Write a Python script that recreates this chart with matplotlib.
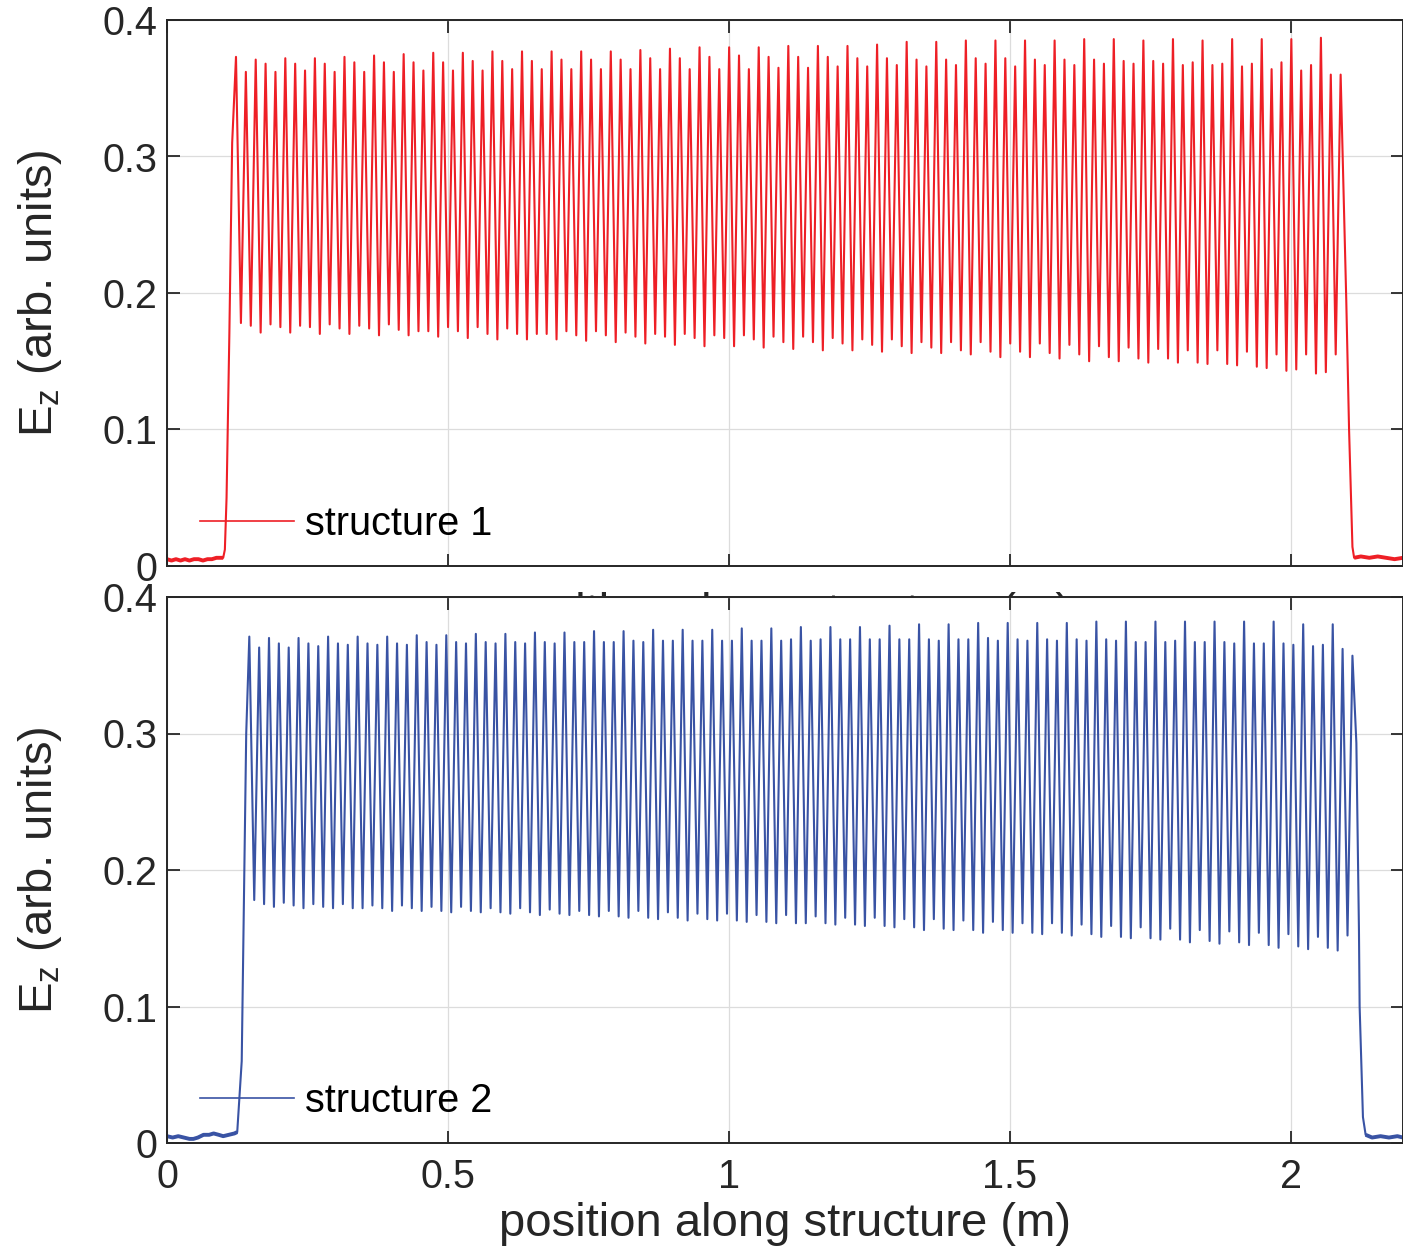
import numpy as np
import matplotlib
matplotlib.use('Agg')
import matplotlib.pyplot as plt
from matplotlib.ticker import FuncFormatter

plt.rcParams['font.family'] = ['Liberation Sans', 'DejaVu Sans']
plt.rcParams['mathtext.default'] = 'regular'

# ---- structure 1 (red): peak / trough heights read cell by cell ----
peaks1 = [0.373, 0.362, 0.371, 0.368, 0.362, 0.372, 0.368, 0.363, 0.372, 0.368,
          0.362, 0.373, 0.369, 0.362, 0.374, 0.369, 0.362, 0.375, 0.369, 0.363,
          0.376, 0.369, 0.363, 0.376, 0.370, 0.363, 0.377, 0.370, 0.364, 0.377,
          0.370, 0.364, 0.377, 0.371, 0.364,
          0.377, 0.371, 0.364, 0.377, 0.371, 0.364, 0.378, 0.372, 0.364, 0.379,
          0.372, 0.364, 0.380, 0.373, 0.364, 0.380, 0.374, 0.364, 0.380, 0.373,
          0.365, 0.381, 0.373, 0.365, 0.381, 0.373, 0.366, 0.381, 0.372, 0.366,
          0.382, 0.372, 0.367, 0.384, 0.371, 0.366, 0.384, 0.371, 0.367, 0.385,
          0.372, 0.368,
          0.385, 0.372, 0.366, 0.385, 0.371, 0.367, 0.385, 0.371, 0.367, 0.386,
          0.371, 0.368, 0.386, 0.370, 0.368, 0.385, 0.370, 0.368, 0.386, 0.367,
          0.369, 0.385, 0.367, 0.368, 0.386, 0.366, 0.368, 0.386, 0.364, 0.369,
          0.386, 0.363, 0.367, 0.387, 0.360, 0.360]
troughs1 = [0.178, 0.176, 0.171, 0.177, 0.175, 0.171, 0.176, 0.175, 0.170, 0.177,
            0.174, 0.170, 0.176, 0.174, 0.169, 0.177, 0.173, 0.169, 0.172, 0.172,
            0.168, 0.175, 0.172, 0.167, 0.175, 0.170, 0.166, 0.174, 0.170, 0.166,
            0.170, 0.170, 0.166, 0.172,
            0.169, 0.165, 0.172, 0.169, 0.164, 0.171, 0.168, 0.163, 0.170, 0.168,
            0.162, 0.170, 0.167, 0.161, 0.169, 0.167, 0.161, 0.169, 0.166, 0.160,
            0.168, 0.164, 0.159, 0.168, 0.164, 0.158, 0.167, 0.163, 0.158, 0.166,
            0.162, 0.157, 0.166, 0.161, 0.156, 0.164, 0.160, 0.156, 0.164, 0.158,
            0.155, 0.164,
            0.157, 0.153, 0.163, 0.157, 0.153, 0.163, 0.156, 0.152, 0.162, 0.155,
            0.150, 0.161, 0.153, 0.150, 0.160, 0.152, 0.149, 0.159, 0.152, 0.149,
            0.158, 0.149, 0.148, 0.158, 0.148, 0.147, 0.157, 0.146, 0.145, 0.155,
            0.143, 0.144, 0.155, 0.141, 0.142, 0.155]
first_peak1, last_peak1 = 0.1228, 2.089
# flat noisy floor before the structure, then the rising edge
floor1_x = [0.0, 0.008, 0.016, 0.024, 0.032, 0.040, 0.048, 0.056, 0.064, 0.072,
            0.080, 0.088, 0.096, 0.100]
floor1_y = [0.005, 0.004, 0.005, 0.004, 0.005, 0.004, 0.005, 0.005, 0.004, 0.005,
            0.005, 0.006, 0.006, 0.006]
rise1_x = [0.103, 0.106, 0.111, 0.116]
rise1_y = [0.012, 0.050, 0.170, 0.310]
fall1_x = [2.099, 2.104, 2.110]
fall1_y = [0.195, 0.100, 0.014]
end1_x = [2.113, 2.125, 2.140, 2.155, 2.170, 2.185, 2.200]
end1_y = [0.006, 0.007, 0.006, 0.007, 0.006, 0.005, 0.006]

# ---- structure 2 (blue) ----
peaks2 = [0.371, 0.363, 0.370, 0.366, 0.363, 0.370, 0.366, 0.364, 0.371, 0.366,
          0.365, 0.371, 0.366, 0.365, 0.371, 0.366, 0.365, 0.372, 0.367, 0.365,
          0.372, 0.367, 0.366, 0.373, 0.367, 0.366, 0.373, 0.367, 0.366, 0.374,
          0.367, 0.366, 0.374, 0.367,
          0.367, 0.375, 0.367, 0.367, 0.375, 0.368, 0.367, 0.376, 0.368, 0.368,
          0.376, 0.368, 0.368, 0.376, 0.368, 0.368, 0.377, 0.368, 0.368, 0.377,
          0.368, 0.369, 0.378, 0.368, 0.369, 0.378, 0.369, 0.369, 0.378, 0.369,
          0.369, 0.379, 0.369, 0.369, 0.380, 0.369, 0.368, 0.380, 0.369, 0.369,
          0.381, 0.370,
          0.368, 0.381, 0.369, 0.368, 0.381, 0.369, 0.368, 0.381, 0.369, 0.368,
          0.382, 0.369, 0.368, 0.382, 0.367, 0.367, 0.382, 0.367, 0.368, 0.382,
          0.367, 0.367, 0.382, 0.367, 0.366, 0.382, 0.366, 0.366, 0.382, 0.366,
          0.365, 0.380, 0.364, 0.365, 0.380, 0.362, 0.357]
troughs2 = [0.178, 0.175, 0.173, 0.176, 0.174, 0.172, 0.175, 0.173, 0.172, 0.175,
            0.172, 0.172, 0.174, 0.172, 0.170, 0.174, 0.172, 0.170, 0.173, 0.170,
            0.169, 0.173, 0.170, 0.169, 0.172, 0.169, 0.168, 0.172, 0.169, 0.167,
            0.171, 0.168, 0.167,
            0.170, 0.167, 0.166, 0.170, 0.166, 0.165, 0.170, 0.165, 0.164, 0.169,
            0.165, 0.163, 0.168, 0.164, 0.163, 0.168, 0.163, 0.162, 0.167, 0.162,
            0.161, 0.167, 0.161, 0.161, 0.166, 0.161, 0.160, 0.165, 0.160, 0.159,
            0.165, 0.159, 0.158, 0.164, 0.158, 0.156, 0.164, 0.157, 0.156, 0.163,
            0.156, 0.154,
            0.162, 0.156, 0.154, 0.161, 0.154, 0.153, 0.161, 0.154, 0.152, 0.160,
            0.153, 0.151, 0.159, 0.151, 0.150, 0.158, 0.150, 0.149, 0.157, 0.149,
            0.147, 0.156, 0.148, 0.146, 0.155, 0.147, 0.145, 0.154, 0.145, 0.143,
            0.153, 0.144, 0.142, 0.151, 0.143, 0.141, 0.152]
first_peak2, last_peak2 = 0.1465, 2.110
floor2_x = [0.0, 0.010, 0.020, 0.030, 0.040, 0.047, 0.055, 0.065, 0.075, 0.083,
            0.092, 0.100, 0.110, 0.120, 0.125]
floor2_y = [0.005, 0.004, 0.005, 0.004, 0.003, 0.003, 0.004, 0.006, 0.006, 0.007,
            0.006, 0.005, 0.006, 0.007, 0.008]
rise2_x = [0.133, 0.136, 0.141]
rise2_y = [0.060, 0.150, 0.300]
fall2_x = [2.117, 2.1216, 2.1228, 2.1287]
fall2_y = [0.293, 0.156, 0.100, 0.019]
end2_x = [2.1335, 2.145, 2.160, 2.175, 2.190, 2.200]
end2_y = [0.006, 0.004, 0.005, 0.004, 0.005, 0.004]

labels = ['structure 1', 'structure 2']
colors = ['#ee1f26', '#3953a4']
xticks = [0, 0.5, 1, 1.5, 2]
yticks = [0, 0.1, 0.2, 0.3, 0.4]


def trace(peaks, troughs, p0, p1, parts_before, parts_after):
    xp = np.linspace(p0, p1, len(peaks))
    xt = 0.5 * (xp[:-1] + xp[1:])
    x = np.empty(len(peaks) + len(troughs))
    y = np.empty_like(x)
    x[0::2], x[1::2] = xp, xt
    y[0::2], y[1::2] = peaks, troughs
    xs = [p[0] for p in parts_before] + [x] + [p[0] for p in parts_after]
    ys = [p[1] for p in parts_before] + [y] + [p[1] for p in parts_after]
    return np.concatenate(xs), np.concatenate(ys)


fig = plt.figure(figsize=(14.03, 12.49), dpi=100)
W, H = 1403, 1249
ax1 = fig.add_axes([167 / W, 1 - 566 / H, (1403 - 167) / W, 546 / H])
ax2 = fig.add_axes([167 / W, 1 - 1143 / H, (1403 - 167) / W, 546 / H])
ax2.set_zorder(3)
ax2.set_facecolor('white')

series = [
    (trace(peaks1, troughs1, first_peak1, last_peak1,
           [(floor1_x, floor1_y), (rise1_x, rise1_y)],
           [(fall1_x, fall1_y), (end1_x, end1_y)]),
     [(floor1_x, floor1_y), (end1_x, end1_y)]),
    (trace(peaks2, troughs2, first_peak2, last_peak2,
           [(floor2_x, floor2_y), (rise2_x, rise2_y)],
           [(fall2_x, fall2_y), (end2_x, end2_y)]),
     [(floor2_x, floor2_y), (end2_x, end2_y)]),
]

fmt = FuncFormatter(lambda v, _: f'{v:g}')
for ax, ((x, y), floors), lab, c in zip([ax1, ax2], series, labels, colors):
    ax.plot(x, y, '-', color=c, lw=1.5, label=lab, solid_joinstyle='round')
    # the noisy floor reads as a thicker band
    for fx, fy in floors:
        ax.plot(fx, fy, '-', color=c, lw=2.8, solid_capstyle='butt')
    ax.set_xlim(0, 2.2)
    ax.set_ylim(0, 0.4)
    ax.set_xticks(xticks)
    ax.set_yticks(yticks)
    ax.xaxis.set_major_formatter(fmt)
    ax.yaxis.set_major_formatter(fmt)
    ax.grid(True, color='#dcdcdc', lw=0.9)
    ax.set_axisbelow(True)
    ax.tick_params(direction='in', length=9, width=1.3, colors='#262626',
                   labelsize=28.5, top=True, right=True, pad=7)
    ax.tick_params(axis='x', pad=11)
    for s in ax.spines.values():
        s.set_color('#262626')
        s.set_linewidth(1.4)
    ax.set_ylabel('$E_z$ (arb. units)', fontsize=34, color='#262626')
    ax.yaxis.set_label_coords(-0.083, 0.5)
    ax.set_xlabel('position along structure (m)', fontsize=34, color='#262626',
                  labelpad=4)
    leg = ax.legend(loc='center left', bbox_to_anchor=(0.027, 0.077), frameon=False,
                    fontsize=28.5, handlelength=2.37, handletextpad=0.28,
                    borderpad=0, borderaxespad=0)
    leg.get_lines()[0].set_linewidth(1.2)

ax1.tick_params(labelbottom=False)
ax1.xaxis.labelpad = 19

fig.savefig('out.png', dpi=100)
